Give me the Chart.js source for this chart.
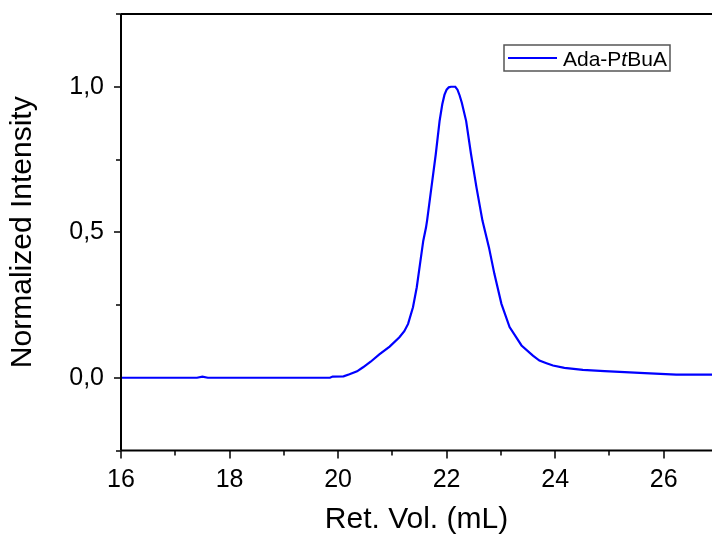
<!DOCTYPE html>
<html>
<head>
<meta charset="utf-8">
<script src="https://cdn.jsdelivr.net/npm/chart.js@4"></script>
<style>
html, body { margin: 0; padding: 0; background: #fff; }
canvas { display: block; }
</style>
</head>
<body>
<canvas id="secChart" width="712" height="538"></canvas>
<script>
// --- data ---
const retVol = [
    16.0, 17.4, 17.5, 17.6, 19.85, 19.9, 20.1, 20.21, 20.35, 20.46,
    20.6, 20.76, 20.95, 21.13, 21.22, 21.29, 21.38, 21.45, 21.51, 21.57,
    21.62, 21.64, 21.72, 21.8, 21.87, 21.92, 21.96, 22.0, 22.04, 22.08,
    22.16, 22.2, 22.24, 22.28, 22.36, 22.45, 22.55, 22.66, 22.78, 22.88,
    23.01, 23.16, 23.38, 23.59, 23.71, 23.84, 23.96, 24.17, 24.51, 24.91,
    25.65, 26.23, 26.89
];
const intensity = [
    0, 0, 0.004, 0, 0, 0.004, 0.005, 0.012, 0.022, 0.036,
    0.055, 0.08, 0.107, 0.139, 0.16, 0.185, 0.242, 0.311, 0.391, 0.471,
    0.516, 0.54, 0.654, 0.768, 0.882, 0.94, 0.972, 0.99, 0.998, 1.0,
    1.0, 0.99, 0.97, 0.945, 0.882, 0.768, 0.654, 0.54, 0.448, 0.357,
    0.254, 0.174, 0.111, 0.076, 0.059, 0.05, 0.042, 0.034, 0.027, 0.023,
    0.016, 0.011, 0.011
];
const xTicks = [16, 18, 20, 22, 24, 26];
const yTicks = [0, 0.5, 1.0];
const seriesLabel = "Ada-PtBuA";
const labelParts = [["Ada-P", false], ["t", true], ["BuA", false]];

const fontFamily = '"Liberation Sans", Arial, Helvetica, sans-serif';

// axis lines + outward ticks (Origin style frame, no right border)
const originAxes = {
    id: "originAxes",
    afterDatasetsDraw(chart) {
        const { ctx, chartArea: a, scales: { x, y } } = chart;
        ctx.save();
        ctx.strokeStyle = "#000";
        ctx.lineWidth = 2;
        ctx.beginPath();
        ctx.moveTo(a.left, a.top); ctx.lineTo(a.right, a.top);
        ctx.moveTo(a.left, a.top); ctx.lineTo(a.left, a.bottom);
        ctx.moveTo(a.left, a.bottom); ctx.lineTo(a.right, a.bottom);
        ctx.stroke();

        ctx.lineWidth = 1.5;
        ctx.beginPath();
        for (let v = 16; v <= 26; v += 1) {
            const px = Math.round(x.getPixelForValue(v));
            const len = v % 2 === 0 ? 8 : 5;
            ctx.moveTo(px, a.bottom); ctx.lineTo(px, a.bottom + len);
        }
        for (let v = -0.25; v <= 1.26; v += 0.25) {
            const py = Math.round(y.getPixelForValue(v));
            const major = Math.abs(v * 2 - Math.round(v * 2)) < 1e-6;
            const len = major ? 7 : 5;
            ctx.moveTo(a.left, py); ctx.lineTo(a.left - len, py);
        }
        ctx.stroke();
        ctx.restore();
    }
};

// legend box with the italic "t"
const legendBox = {
    id: "legendBox",
    afterDraw(chart) {
        const { ctx, chartArea: a } = chart;
        const bx = a.right - 208, by = a.top + 31, bw = 166, bh = 26;
        ctx.save();
        ctx.fillStyle = "#fff";
        ctx.fillRect(bx, by, bw, bh);
        ctx.strokeStyle = "#555";
        ctx.lineWidth = 1.5;
        ctx.strokeRect(bx, by, bw, bh);
        ctx.strokeStyle = "#0000ff";
        ctx.lineWidth = 2;
        ctx.beginPath();
        ctx.moveTo(bx + 4, by + 13); ctx.lineTo(bx + 53, by + 13);
        ctx.stroke();
        ctx.fillStyle = "#000";
        ctx.textBaseline = "alphabetic";
        let tx = bx + 59;
        labelParts.forEach(([txt, it]) => {
            ctx.font = (it ? "italic " : "") + "21px " + fontFamily;
            ctx.fillText(txt, tx, by + 21);
            tx += ctx.measureText(txt).width;
        });
        ctx.restore();
    }
};

const ctxSec = document.getElementById("secChart");
new Chart(ctxSec, {
    type: "line",
    data: {
        datasets: [
            {
                label: seriesLabel,
                data: retVol.map((v, i) => ({ x: v, y: intensity[i] })),
                borderColor: "#0000ff",
                borderWidth: 2.2,
                pointRadius: 0,
                tension: 0,
                fill: false,
            },
        ],
    },
    options: {
        responsive: false,
        animation: false,
        layout: { padding: { top: 14, right: 0, left: 0, bottom: 0 } },
        plugins: { legend: { display: false }, tooltip: { enabled: false } },
        scales: {
            x: {
                type: "linear",
                min: 16,
                max: 26.89,
                afterBuildTicks: (s) => { s.ticks = xTicks.map((v) => ({ value: v })); },
                afterFit: (s) => { s.height = 87.5; s.paddingRight = 0; },
                grid: { display: false },
                border: { display: false },
                ticks: {
                    color: "#000",
                    padding: 7,
                    maxRotation: 0,
                    font: { family: fontFamily, size: 25 },
                    callback: (v) => String(v),
                },
                title: {
                    display: true,
                    text: "Ret. Vol. (mL)",
                    color: "#000",
                    font: { family: fontFamily, size: 30 },
                    padding: { top: 0, bottom: 0 },
                },
            },
            y: {
                min: -0.25,
                max: 1.25,
                afterBuildTicks: (s) => { s.ticks = yTicks.map((v) => ({ value: v })); },
                afterFit: (s) => { s.width = 121; s.paddingTop = 0; s.paddingBottom = 0; },
                grid: { display: false },
                border: { display: false },
                ticks: {
                    color: "#000",
                    padding: 9,
                    font: { family: fontFamily, size: 25 },
                    callback: (v) => v.toFixed(1).replace(".", ","),
                },
                title: {
                    display: true,
                    text: "Normalized Intensity",
                    color: "#000",
                    font: { family: fontFamily, size: 30 },
                    padding: { top: 5, bottom: 0 },
                },
            },
        },
    },
    plugins: [originAxes, legendBox],
});
</script>
</body>
</html>
